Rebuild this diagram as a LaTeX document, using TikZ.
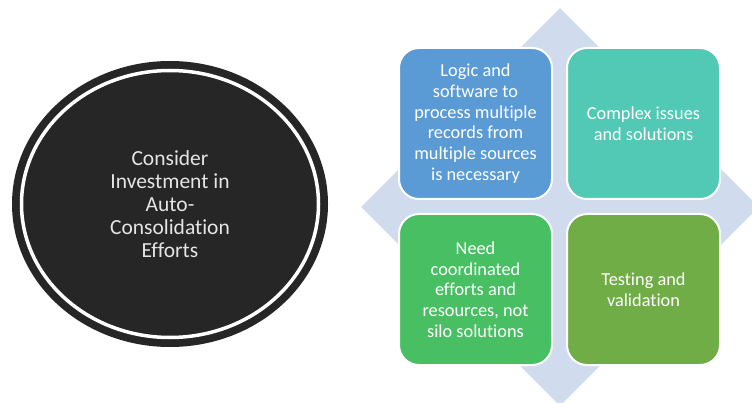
\documentclass[tikz,border=0pt]{standalone}
\usepackage{fontspec}
\setmainfont{Carlito}[RawFeature={-liga}]
\usepackage{xcolor}
\usepackage{tikz}
\usetikzlibrary{positioning, shapes.geometric}

\definecolor{ringblack}{RGB}{38,38,38}
\definecolor{diamondblue}{RGB}{208,220,238}
\definecolor{logicblue}{RGB}{91,155,213}
\definecolor{issueteal}{RGB}{82,201,181}
\definecolor{effortgreen}{RGB}{73,191,99}
\definecolor{testolive}{RGB}{112,173,71}

\begin{document}
\begin{tikzpicture}[x = 1pt, y = 1pt, node distance = 13pt]
            \tikzstyle{task} = [rectangle, rounded corners = 20pt, draw = white, line width = 2pt, minimum width = 153pt, minimum height = 151pt, inner sep = 0pt, text = white, align = center, font = \fontsize{18.3}{20.7}\selectfont]
            \tikzstyle{focus} = [ellipse, inner sep = 0pt, text = black!10, align = center, font = \fontsize{21.5}{23}\selectfont]
            \useasboundingbox (0, 0) rectangle (752, 402);

            % left: the ringed ellipse
            \node [focus, fill = ringblack, minimum width = 316pt, minimum height = 286pt] (E0) at (170, 198) {};
            \node [focus, draw = white, line width = 3.5pt, minimum width = 297pt, minimum height = 267pt] (E1) at (E0) {Consider\\Investment in\\Auto-\\Consolidation\\Efforts};

            % right: diamond behind the four boxes
            \node [diamond, fill = diamondblue, minimum width = 398pt, minimum height = 398pt, inner sep = 0pt] (D) at (560, 195) {};

            \node [task, fill = logicblue] (B1) at (475.5, 278.5) {Logic and\\software to\\process multiple\\records from\\multiple sources\\is necessary};
            \node [task, fill = issueteal, right = of B1] (B2) {Complex issues\\and solutions};
            \node [task, fill = effortgreen, below = of B1] (B3) {Need\\coordinated\\efforts and\\resources, not\\silo solutions};
            \node [task, fill = testolive, right = of B3] (B4) {Testing and\\validation};
        \end{tikzpicture}
\end{document}
